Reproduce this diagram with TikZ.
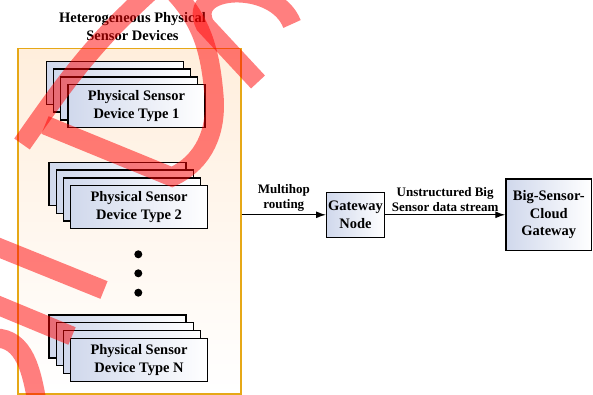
\documentclass[tikz,border=0pt]{standalone}
\usepackage{fontspec}
\setmainfont{Liberation Serif}
\usetikzlibrary{arrows.meta}

\definecolor{cardblue}{RGB}{208,216,236}
\definecolor{boxgold}{RGB}{230,168,23}
\definecolor{boxpeach}{RGB}{255,238,220}

\begin{document}
\begin{tikzpicture}[x=1pt,y=-1pt]
  \useasboundingbox (0,0) rectangle (593,395);
  \tikzstyle{big text}=[font=\bfseries\fontsize{14.5}{17.5}\selectfont]
  \tikzstyle{small text}=[font=\bfseries\fontsize{13}{15}\selectfont]
  \tikzstyle{card}=[draw,line width=1.3pt,left color=cardblue,right color=white,
                    inner sep=0pt,align=center,big text]

%% group of sensor devices
  \node[draw=boxgold,line width=1.5pt,anchor=north west,minimum width=223pt,minimum height=345pt,
        top color=boxpeach,middle color=boxpeach!35,bottom color=white] (sensors) at (17,48) {};
  \node[big text,align=center] (heading) at (132.5,26.5) {Heterogeneous Physical\\Sensor Devices};

  \foreach \n/\x/\y/\txt in {one/45.7/60.7/1, two/48.3/161.7/2, last/48.3/314.3/N} {
    \foreach \k in {0,1,2}
      \node[card,anchor=north west,minimum width=137pt,minimum height=43pt] at (\x+7.2*\k,\y+7.8*\k) {};
    \node[card,anchor=north west,minimum width=137pt,minimum height=43pt] (type-\n) at (\x+21.6,\y+23.4)
      {Physical Sensor\\Device Type \txt};
  }
  \foreach \y in {254.3,273.3,292.7}
    \fill (138.3,\y) circle (4pt);

%% gateways
  \node[card,minimum width=57.6pt,minimum height=45pt] (gateway) at (355.5,214.8) {Gateway\\Node};
  \node[card,minimum width=85.7pt,minimum height=71.7pt] (cloud) at (548.8,214.8) {Big-Sensor-\\Cloud\\Gateway};

%% draw connections
  \tikzstyle{flow}=[-{Latex[length=10pt,width=7pt]},line width=1.3pt]
  \draw[flow] (sensors.east |- gateway.west) -- (gateway.west)
    node[midway,above,yshift=2pt,inner sep=1pt,small text,align=center] {Multihop\\routing};
  \draw[flow] (gateway.east) -- (cloud.west)
    node[midway,above,yshift=2pt,inner sep=1pt,small text,align=center] {Unstructured Big\\Sensor data stream};

%% red stamp on top
  \tikzstyle{stamp}=[draw=red,draw opacity=0.5,line width=19pt]
  \draw[stamp] (22,144) to[out=55,in=-138] (152,-10);
  \draw[stamp] (170,-12) to[out=-45,in=95] (214,95) to[out=-85,in=25] (172,177) -- (45,125);
  \draw[stamp] (292,24) .. controls (275,-20) and (185,-15) .. (205,25) -- (258,82);
  \draw[stamp] (-10,244) -- (104,290);
  \draw[stamp] (-10,302) -- (72,336);
  \draw[stamp] (-5,338) to[out=0,in=100] (37,402);
\end{tikzpicture}
\end{document}
